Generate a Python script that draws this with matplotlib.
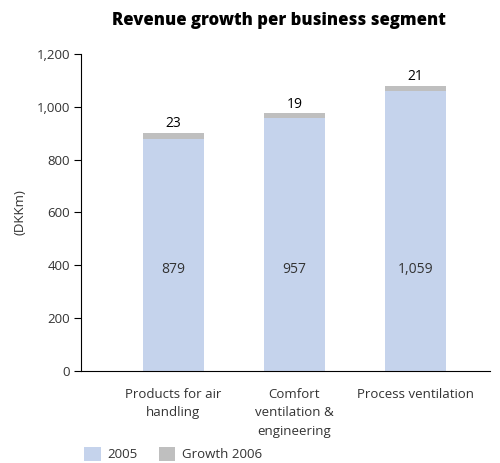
import numpy as np
import matplotlib.pyplot as plt

plt.rcParams['font.family'] = ['Open Sans', 'DejaVu Sans']

segments = ["Products for air\nhandling", "Comfort\nventilation &\nengineering", "Process ventilation"]
rev_2005 = [879, 957, 1059]
growth_2006 = [23, 19, 21]
yticks = [0, 200, 400, 600, 800, 1000, 1200]

blue = '#c5d3ec'
grey = '#bfbfbf'
txt = '#333333'

fig = plt.figure(figsize=(5, 4.63), dpi=100)
ax = fig.add_axes([0.162, 0.1987, 0.818, 0.6847])

x = np.arange(len(segments))
ax.bar(x, rev_2005, width=0.5, color=blue, label='2005')
ax.bar(x, growth_2006, width=0.5, bottom=rev_2005, color=grey, label='Growth 2006')

for i in range(len(x)):
    ax.text(x[i], 385, f"{rev_2005[i]:,}", ha='center', va='center', fontsize=10, color=txt)
    ax.text(x[i], rev_2005[i] + growth_2006[i] + 6, str(growth_2006[i]),
            ha='center', va='bottom', fontsize=10, color='black')

ax.set_xlim(-0.764, 2.616)
ax.set_ylim(0, 1200)
ax.set_yticks(yticks)
ax.set_yticklabels([f"{v:,}" for v in yticks], fontsize=9.5, color=txt)
ax.set_xticks(x)
ax.set_xticklabels(segments, fontsize=9.5, color=txt, linespacing=1.55)
ax.tick_params(axis='x', length=0, pad=12)
ax.tick_params(axis='y', length=5, width=0.8, direction='out', pad=3)
ax.set_ylabel('(DKKm)', fontsize=9.5, color=txt, labelpad=7)

for s in ['top', 'right']:
    ax.spines[s].set_visible(False)
for s in ['left', 'bottom']:
    ax.spines[s].set_linewidth(0.8)

fig.text(0.558, 0.956, 'Revenue growth per business segment', ha='center', va='center',
         fontsize=12, fontweight='heavy', color='black')

fig.legend(loc='lower left', bbox_to_anchor=(0.145, -0.022), ncol=2, frameon=False,
           fontsize=9.5, handlelength=1.25, handleheight=1.25, columnspacing=1.6,
           handletextpad=0.5, labelcolor=txt)

fig.savefig('out.png', dpi=100)
